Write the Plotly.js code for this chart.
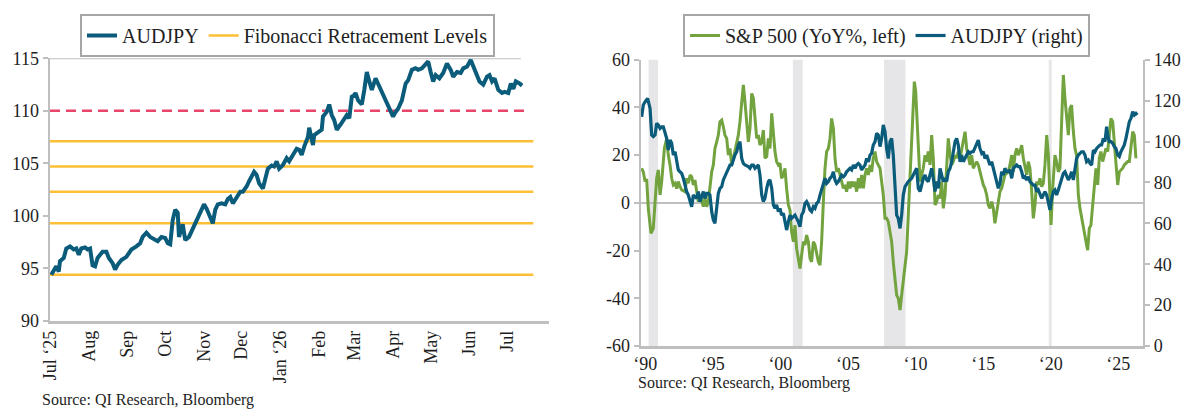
<!DOCTYPE html>
<html>
<head>
<meta charset="utf-8">
<script src="https://cdn.plot.ly/plotly-3.0.1.min.js"></script>
<style>
  html, body { margin: 0; padding: 0; background: #fff; }
  #chart { width: 1200px; height: 416px; }
</style>
</head>
<body>
<div id="chart"></div>
<script>
// ---- left panel: AUDJPY daily-ish, Jul '25 to Jul '26
const audDates = [
  '2025-07-02','2025-07-05','2025-07-06','2025-07-08','2025-07-09','2025-07-12','2025-07-14','2025-07-17',
  '2025-07-20','2025-07-22','2025-07-24','2025-07-26','2025-07-29','2025-07-31','2025-08-02','2025-08-04',
  '2025-08-06','2025-08-08','2025-08-12','2025-08-15','2025-08-17','2025-08-20','2025-08-22','2025-08-24',
  '2025-08-27','2025-08-31','2025-09-04','2025-09-08','2025-09-11','2025-09-13','2025-09-16','2025-09-19',
  '2025-09-23','2025-09-25','2025-09-28','2025-10-01','2025-10-03','2025-10-05','2025-10-07','2025-10-09',
  '2025-10-11','2025-10-12','2025-10-15','2025-10-17','2025-10-20','2025-10-23','2025-10-26','2025-10-28',
  '2025-11-01','2025-11-03','2025-11-05','2025-11-08','2025-11-10','2025-11-12','2025-11-15','2025-11-18',
  '2025-11-20','2025-11-22','2025-11-24','2025-11-27','2025-11-30','2025-12-02','2025-12-05','2025-12-07',
  '2025-12-11','2025-12-13','2025-12-15','2025-12-18','2025-12-22','2025-12-25','2025-12-27','2025-12-29',
  '2025-12-31','2026-01-03','2026-01-06','2026-01-08','2026-01-11','2026-01-14','2026-01-16','2026-01-18',
  '2026-01-20','2026-01-23','2026-01-24','2026-01-26','2026-01-27','2026-01-28','2026-01-31','2026-02-03',
  '2026-02-04','2026-02-07','2026-02-09','2026-02-11','2026-02-13','2026-02-15','2026-02-18','2026-02-20',
  '2026-02-23','2026-02-25','2026-02-27','2026-03-01','2026-03-02','2026-03-04','2026-03-07','2026-03-09',
  '2026-03-11','2026-03-13','2026-03-15','2026-03-18','2026-03-21','2026-03-23','2026-03-26','2026-03-29',
  '2026-04-01','2026-04-03','2026-04-05','2026-04-08','2026-04-11','2026-04-13','2026-04-16','2026-04-19',
  '2026-04-21','2026-04-24','2026-04-27','2026-04-29','2026-05-01','2026-05-03','2026-05-05','2026-05-08',
  '2026-05-11','2026-05-14','2026-05-17','2026-05-19','2026-05-22','2026-05-25','2026-05-27','2026-05-30',
  '2026-06-02','2026-06-04','2026-06-07','2026-06-09','2026-06-12','2026-06-15','2026-06-17','2026-06-19',
  '2026-06-21','2026-06-24','2026-06-27','2026-06-29','2026-07-02','2026-07-04','2026-07-06','2026-07-08',
  '2026-07-11','2026-07-13'
];
const audClose = [
  94.4, 94.9, 95.2, 94.7, 95.7, 96.0, 96.9, 97.1,
  96.8, 96.9, 96.3, 96.9, 97.0, 96.8, 96.9, 95.3,
  95.2, 96.0, 96.6, 96.6, 96.0, 95.5, 94.9, 95.35,
  95.8, 96.1, 96.8, 97.1, 97.4, 98.0, 98.4, 98.0,
  97.7, 97.6, 98.0, 97.9, 97.4, 97.3, 99.6, 100.6,
  100.3, 98.0, 99.2, 97.7, 98.0, 98.8, 99.5, 100.1,
  101.1, 100.7, 100.1, 99.3, 100.6, 101.1, 101.2, 101.1,
  101.6, 101.8, 101.2, 101.7, 102.3, 102.3, 102.8, 103.3,
  104.2, 103.9, 103.1, 102.6, 104.5, 104.8, 104.7, 105.2,
  104.5, 104.85, 105.5, 105.2, 105.8, 106.4, 106.3, 105.8,
  106.6, 107.5, 108.4, 107.2, 106.75, 107.7, 108.0, 108.2,
  109.45, 109.9, 110.6, 109.6, 109.1, 108.2, 108.7, 109.1,
  109.6, 109.3, 111.35, 111.5, 111.7, 111.0, 110.6, 112.0,
  113.7, 112.8, 112.0, 113.1, 112.3, 111.8, 111.2, 110.2,
  109.45, 109.9, 110.2, 111.0, 112.6, 112.9, 113.9, 114.05,
  113.9, 114.05, 114.4, 114.7, 113.7, 112.8, 113.4, 113.1,
  113.6, 114.5, 113.9, 113.25, 113.7, 113.6, 114.05, 114.2,
  114.85, 114.2, 113.4, 112.8, 112.5, 113.25, 113.4, 112.8,
  113.1, 112.0, 111.7, 111.8, 111.7, 112.6, 112.1, 112.8,
  112.6, 112.4
];
const fibLevels = [107.1, 104.7, 102.3, 99.3, 94.4];
const markLevel = 110;
const monthTicks = ['2025-07-01','2025-08-01','2025-09-01','2025-10-01','2025-11-01','2025-12-01',
  '2026-01-01','2026-02-01','2026-03-01','2026-04-01','2026-05-01','2026-06-01','2026-07-01'];
const monthLabels = ['Jul \u201825','Aug','Sep','Oct','Nov','Dec','Jan \u201826','Feb','Mar','Apr','May','Jun','Jul'];

// ---- right panel: S&P 500 YoY% (left axis) and AUDJPY (right axis)
const spxYears = [
  1989.99,1990.11,1990.24,1990.36,1990.48,1990.68,1990.85,1990.98,1991.10,1991.22,1991.35,1991.47,1991.67,1991.84,1991.96,
  1992.09,1992.21,1992.33,1992.46,1992.58,1992.70,1992.83,1992.95,1993.19,1993.32,1993.44,1993.57,1993.69,1993.81,1993.93,
  1994.06,1994.18,1994.30,1994.43,1994.55,1994.67,1994.80,1994.92,1995.04,1995.17,1995.29,1995.41,1995.54,1995.66,1995.78,
  1995.91,1996.03,1996.15,1996.28,1996.40,1996.52,1996.65,1996.77,1996.89,1997.02,1997.14,1997.26,1997.39,1997.51,1997.63,
  1997.76,1997.88,1998.00,1998.13,1998.25,1998.37,1998.50,1998.62,1998.74,1998.87,1998.99,1999.11,1999.24,1999.36,1999.48,
  1999.61,1999.73,1999.85,1999.97,2000.10,2000.22,2000.34,2000.47,2000.59,2000.71,2000.84,2000.96,2001.08,2001.21,2001.33,
  2001.45,2001.58,2001.70,2001.82,2001.95,2002.07,2002.19,2002.32,2002.44,2002.56,2002.69,2002.81,2002.93,2003.06,2003.18,
  2003.30,2003.43,2003.55,2003.67,2003.80,2003.92,2004.04,2004.17,2004.29,2004.41,2004.54,2004.66,2004.78,2004.91,2005.03,
  2005.15,2005.28,2005.40,2005.52,2005.65,2005.77,2005.89,2006.02,2006.14,2006.26,2006.39,2006.51,2006.63,2006.76,2006.88,
  2007.00,2007.12,2007.25,2007.37,2007.49,2007.62,2007.74,2007.86,2007.99,2008.11,2008.23,2008.36,2008.48,2008.60,2008.73,
  2008.85,2008.97,2009.10,2009.22,2009.34,2009.47,2009.59,2009.71,2009.84,2009.96,2010.08,2010.16,2010.26,2010.35,2010.45,
  2010.58,2010.70,2010.82,2010.95,2011.07,2011.19,2011.32,2011.44,2011.56,2011.69,2011.81,2011.93,2012.06,2012.18,2012.30,
  2012.43,2012.55,2012.67,2012.80,2012.92,2013.04,2013.17,2013.29,2013.41,2013.54,2013.66,2013.78,2013.91,2014.03,2014.15,
  2014.28,2014.40,2014.52,2014.64,2014.77,2014.89,2015.01,2015.14,2015.26,2015.38,2015.51,2015.63,2015.75,2015.88,2016.00,
  2016.12,2016.25,2016.37,2016.49,2016.62,2016.74,2016.86,2016.99,2017.11,2017.23,2017.36,2017.48,2017.60,2017.73,2017.85,
  2017.97,2018.10,2018.22,2018.34,2018.47,2018.59,2018.71,2018.84,2018.96,2019.08,2019.21,2019.33,2019.45,2019.58,2019.70,
  2019.82,2019.95,2020.07,2020.19,2020.27,2020.39,2020.56,2020.68,2020.81,2020.93,2021.05,2021.18,2021.30,2021.42,2021.55,
  2021.67,2021.79,2021.92,2022.04,2022.16,2022.29,2022.41,2022.53,2022.66,2022.78,2022.90,2022.98,2023.10,2023.22,2023.35,
  2023.47,2023.59,2023.72,2023.84,2023.96,2024.09,2024.21,2024.33,2024.46,2024.58,2024.70,2024.83,2024.95,2025.07,2025.20,
  2025.32,2025.44,2025.57,2025.69,2025.81,2025.94,2026.06,2026.18,2026.31,2026.43,2026.55
];
const spxYoY = [
  14.5,13,9,10,-2.3,-12.8,-10.7,1.9,10.3,13.8,3.3,8.9,22.8,27,20,
  15.8,10.3,7.5,8.2,6,8.9,6.8,5.4,4.7,10.3,8.2,11.7,11,7.5,9.6,
  4.7,0.5,3.3,0.5,-1.6,1.9,-1.6,0.5,6,13,15.9,22.8,25.6,28.4,34,
  34.7,31.9,28.4,27,20,22.8,15.9,18.7,21.5,25.6,28.4,34,41,49.4,42.4,
  34,25.6,31.2,45.9,43.8,34,27,28.4,24.2,25.6,30.5,18.7,19.4,27,22.8,
  37.5,28.4,21.5,17.3,15.9,16.6,10.3,11.7,14.5,6.1,-0.9,-3,-12.1,-16.3,-9.3,
  -19.1,-24.7,-27.5,-21.9,-16.3,-17.7,-13.5,-16.3,-23.3,-24.7,-16.3,-17.7,-21.9,-24.7,-26.1,
  -16.3,0.5,14.5,21.5,22.8,27,35.4,31.2,18.7,13,14.5,11.7,8.9,6.1,7.5,
  4.7,8.9,6.1,8.9,6.8,8.9,4.7,10.3,6.1,11.7,6.1,11.7,14.5,11.7,15.9,
  13,18.7,21.5,17.3,15.9,14.5,8.9,3.3,-6.5,-6.5,-7.9,-13.5,-16.3,-24.7,-33.1,
  -38.7,-40,-44.9,-38.7,-33.1,-24.7,-20.5,-5.1,13,28.4,42.4,50.8,46.6,36.8,21.5,
  8.9,11.7,14.5,20,17.3,21.5,15.9,28.4,18.7,-0.9,0.5,3.3,1.9,8.9,-2.3,
  3.3,13,27,20,15.9,17.3,20,18.7,21.5,18.7,22.8,25.6,29.8,22.8,20,
  15.9,20,14.5,15.9,17.3,15.9,13,10.3,7.5,6.1,3.3,-0.9,-2.3,0.5,-2.3,
  -8.6,-3.7,0.5,4.7,6.1,8.9,11.7,12.4,13,15.9,20,13,20,22.8,20,
  21.5,24.2,18.7,15.9,11.7,17.3,14.5,4.7,-6.5,-0.9,8.9,7.5,10.3,6.8,8.2,
  15.9,28.4,20,-3.7,-9.3,6.1,20,17.3,13,14.5,37,53.6,43.8,36.8,28.4,
  39.6,41,29.8,22.8,20,3.3,-2.3,-6.5,-10.7,-13.5,-17.7,-19.8,-10.7,-9.3,-0.9,
  8.9,14.5,7.5,18.7,21.5,17.3,20,22.8,21.5,29.8,35.4,34,25.6,15.9,7.5,
  13,13.8,14.5,15.9,16.6,17.3,17.3,24.2,29.8,28.4,18.7
];
const fxYears = [
  1989.99,1990.11,1990.24,1990.43,1990.61,1990.73,1990.85,1990.98,1991.10,1991.22,1991.35,1991.47,1991.59,1991.72,1991.84,
  1991.96,1992.09,1992.21,1992.33,1992.46,1992.58,1992.70,1992.83,1992.95,1993.07,1993.19,1993.32,1993.44,1993.57,1993.69,
  1993.81,1993.93,1994.06,1994.18,1994.30,1994.43,1994.55,1994.67,1994.80,1994.92,1995.04,1995.17,1995.29,1995.41,1995.54,
  1995.66,1995.78,1995.91,1996.03,1996.15,1996.28,1996.40,1996.52,1996.65,1996.77,1996.89,1997.02,1997.14,1997.26,1997.39,
  1997.51,1997.63,1997.88,1998.00,1998.13,1998.25,1998.37,1998.50,1998.62,1998.74,1998.87,1998.99,1999.11,1999.24,1999.36,
  1999.48,1999.61,1999.73,1999.85,1999.97,2000.10,2000.22,2000.34,2000.47,2000.59,2000.71,2000.84,2000.96,2001.08,2001.21,
  2001.33,2001.45,2001.58,2001.70,2001.82,2001.95,2002.07,2002.19,2002.32,2002.44,2002.56,2002.69,2002.81,2002.93,2003.06,
  2003.18,2003.30,2003.43,2003.55,2003.67,2003.80,2003.92,2004.04,2004.17,2004.29,2004.41,2004.54,2004.66,2004.78,2004.91,
  2005.03,2005.15,2005.28,2005.40,2005.52,2005.65,2005.77,2005.89,2006.02,2006.14,2006.26,2006.39,2006.51,2006.63,2006.76,
  2006.88,2007.00,2007.12,2007.25,2007.37,2007.49,2007.62,2007.74,2007.86,2007.99,2008.11,2008.23,2008.36,2008.48,2008.60,
  2008.73,2008.85,2008.97,2009.10,2009.22,2009.34,2009.47,2009.59,2009.71,2009.84,2009.96,2010.08,2010.21,2010.33,2010.45,
  2010.58,2010.70,2010.82,2010.95,2011.07,2011.19,2011.32,2011.44,2011.56,2011.69,2011.81,2011.93,2012.06,2012.18,2012.30,
  2012.43,2012.55,2012.67,2012.80,2012.92,2013.04,2013.17,2013.29,2013.41,2013.54,2013.66,2013.78,2013.91,2014.03,2014.15,
  2014.28,2014.40,2014.52,2014.64,2014.77,2014.89,2015.01,2015.14,2015.26,2015.38,2015.51,2015.63,2015.75,2015.88,2016.00,
  2016.12,2016.25,2016.37,2016.49,2016.62,2016.74,2016.86,2016.99,2017.11,2017.23,2017.36,2017.48,2017.60,2017.73,2017.85,
  2017.97,2018.10,2018.22,2018.34,2018.47,2018.59,2018.71,2018.84,2018.96,2019.08,2019.21,2019.33,2019.45,2019.58,2019.70,
  2019.82,2019.95,2020.07,2020.19,2020.32,2020.44,2020.56,2020.68,2020.81,2020.93,2021.05,2021.18,2021.30,2021.42,2021.55,
  2021.67,2021.79,2021.92,2022.04,2022.16,2022.29,2022.41,2022.53,2022.66,2022.78,2022.90,2023.03,2023.15,2023.27,2023.40,
  2023.52,2023.64,2023.77,2023.89,2024.01,2024.14,2024.26,2024.38,2024.46,2024.58,2024.70,2024.83,2024.95,2025.07,2025.20,
  2025.32,2025.44,2025.57,2025.69,2025.81,2025.94,2026.06,2026.18,2026.31,2026.43,2026.55,2026.65
];
const fxLevel = [
  112.1,117.8,119.4,121.1,116.2,103.2,102.4,103.2,108.9,108.1,106.4,107.2,107.2,104.8,101.5,
  95.8,100.7,99.1,93.4,95,90.1,86.1,85.2,84.4,82,77.9,75.5,73.8,70.6,68.1,
  73.8,73,72.2,75.5,70.6,73,75.5,72.2,74.6,74.6,73.8,65.7,61.6,60,67.3,
  74.6,77.1,77.9,81.2,82.8,85.2,86.1,88.5,88.5,91.7,93.4,95,98.3,99.9,91.7,
  89.3,88.5,87.7,86.9,88.5,88.5,86.9,87.7,88.5,83.6,73.8,70.6,72.2,77.1,80.4,
  81.2,77.1,69,67.3,69,65.7,67.3,64,64.9,60.8,56.7,60.8,64,62.4,63.2,
  64,62.4,60.8,58.3,64,65.7,69.7,70.6,69,66.5,65.7,68.1,67.3,69.7,70.6,
  73.8,76.3,79.5,82,79.5,80.4,82,82.8,85.2,81.2,79.5,80.4,82,83.6,82.8,
  83.6,85.2,86.1,86.9,86.1,88.5,86.9,88.5,89.3,88.5,86.1,87.7,88.5,91.7,90.1,
  93.4,94.2,98.3,99.9,104,103.2,97.5,101.5,108.1,104.8,96.6,91.7,99.9,101.5,93.4,
  77.1,64,62.4,57.5,64,73.8,77.9,79.5,80.4,81.2,82,83.6,85.2,86.9,77.1,
  75.5,78.7,82,83.6,81.2,80.4,83.6,86.9,82,75.5,80.4,77.1,86.9,83.6,80.4,
  82,80.4,85.2,86.9,90.1,95,99.9,101.5,98.3,90.1,93.4,90.1,91.7,93.4,95,
  94.2,95,95,96.6,98.3,100.7,96.6,94.2,95,91.7,93.4,90.9,88.5,90.1,86.9,
  83.6,80.4,77.1,79.5,85.2,83.6,86.9,85.2,85.2,86.1,82,86.9,87.7,88.5,87.7,
  87.7,85.2,82,82.8,81.2,82.8,80.4,79.5,78.7,78.7,75.5,76.3,73.8,72.2,73.8,
  75.5,73.8,70.6,66.5,72.2,75.5,76.3,73.8,76.3,78.7,82,84.4,85.2,83.6,81.2,
  82.8,85.2,81.2,86.1,91.7,93.4,94.2,95,95,93.4,90.1,90.9,89.3,88.5,95.8,
  95,96.6,97.5,98.3,98.3,101.5,99.9,107.2,103.2,99.9,99.9,99.1,97.5,96.6,93.4,
  92.6,95,96.6,98.3,101.5,105.6,109.7,111.3,114.6,113,113.8,113
];
// US recessions (start, end) in decimal years
const recStart = [1990.50, 2001.17, 2007.92, 2020.10];
const recEnd   = [1991.20, 2001.90, 2009.50, 2020.32];
const yearTicks = [1990, 1995, 2000, 2005, 2010, 2015, 2020, 2025];
const spxTicks = [-60, -40, -20, 0, 20, 40, 60];

const FONT = 'Liberation Serif, Times New Roman, serif';
const INK = '#1e1e1e';
const AXIS = '#bfbfbf';
const BLUE = '#0b5b7b';
const GREEN = '#72a33f';
const GOLD = '#fcbf35';
const RED = '#e9456a';

// fib retracement lines, one segment per level, broken by nulls
const fibX = [], fibY = [];
fibLevels.forEach(l => { fibX.push('2025-07-01', '2026-07-22', null); fibY.push(l, l, null); });

const traces = [
  { x: fibX, y: fibY, type: 'scatter', mode: 'lines', name: 'Fibonacci Retracement Levels',
    line: { color: GOLD, width: 2.5 }, legend: 'legend', legendrank: 2, hoverinfo: 'skip' },
  { x: ['2025-07-01', '2026-07-17'], y: [markLevel, markLevel], type: 'scatter', mode: 'lines',
    line: { color: RED, width: 2.5, dash: '10px,6px' }, showlegend: false, hoverinfo: 'skip' },
  { x: audDates, y: audClose, type: 'scatter', mode: 'lines', name: 'AUDJPY',
    line: { color: BLUE, width: 4 }, legend: 'legend', legendrank: 1 },
  { x: spxYears, y: spxYoY, xaxis: 'x2', yaxis: 'y2', type: 'scatter', mode: 'lines',
    name: 'S&P 500 (YoY%, left)', line: { color: GREEN, width: 3 }, legend: 'legend2', legendrank: 1 },
  { x: fxYears, y: fxLevel, xaxis: 'x2', yaxis: 'y3', type: 'scatter', mode: 'lines',
    name: 'AUDJPY (right)', line: { color: BLUE, width: 3.2 }, legend: 'legend2', legendrank: 2 }
];

const shapes = recStart.map((s, i) => ({
  type: 'rect', xref: 'x2', yref: 'y2 domain', x0: s, x1: recEnd[i], y0: 0, y1: 1,
  fillcolor: '#e6e6e8', line: { width: 0 }, layer: 'below'
}));
// light rule along the 115 level
shapes.push({ type: 'line', xref: 'x', yref: 'y', x0: '2025-07-01', x1: '2026-07-12', y0: 115, y1: 115,
  line: { color: AXIS, width: 2 }, layer: 'below' });

const yTick = { ticks: 'outside', ticklen: 5, tickwidth: 2, tickcolor: AXIS,
  showline: true, linecolor: AXIS, linewidth: 2.5, showgrid: false, zeroline: false,
  tickfont: { family: FONT, size: 18, color: INK } };

const legendBox = {
  orientation: 'h', xanchor: 'left', yanchor: 'top', bgcolor: '#fff',
  bordercolor: '#a6a6a6', borderwidth: 2, itemwidth: 30, traceorder: 'normal',
  font: { family: FONT, size: 20, color: INK }
};

const layout = {
  width: 1200, height: 416,
  margin: { l: 0, r: 0, t: 0, b: 0 },
  paper_bgcolor: '#fff', plot_bgcolor: 'rgba(0,0,0,0)',
  showlegend: true,
  font: { family: FONT, color: INK },
  xaxis: {
    domain: [50 / 1200, 549 / 1200], anchor: 'y', type: 'date',
    range: ['2025-07-01', '2026-08-03 12:00'],
    tickvals: monthTicks, ticktext: monthLabels, tickangle: -90, ticks: '',
    showline: true, linecolor: AXIS, linewidth: 2.5, showgrid: false, zeroline: false,
    tickfont: { family: FONT, size: 18, color: INK }
  },
  yaxis: Object.assign({}, yTick, {
    domain: [1 - 321 / 416, 1 - 58.3 / 416], anchor: 'x', range: [90, 115], tickvals: [90, 95, 100, 105, 110, 115]
  }),
  xaxis2: {
    domain: [641 / 1200, 1142.7 / 1200], anchor: 'y2',
    range: [1989.94, 2027.05],
    tickvals: yearTicks.map(y => y + 0.25),
    ticktext: yearTicks.map(y => '\u2018' + String(y).slice(2)),
    ticks: '', showline: true, linecolor: AXIS, linewidth: 2.5, showgrid: false, zeroline: false,
    tickfont: { family: FONT, size: 18, color: INK }
  },
  yaxis2: Object.assign({}, yTick, {
    domain: [1 - 346 / 416, 1 - 59.7 / 416], anchor: 'x2', range: [-60, 60],
    tickvals: spxTicks, ticktext: spxTicks.map(v => String(v)),
    zeroline: true, zerolinecolor: AXIS, zerolinewidth: 2
  }),
  yaxis3: Object.assign({}, yTick, {
    domain: [1 - 346 / 416, 1 - 59.7 / 416], anchor: 'x2', overlaying: 'y2', side: 'right',
    range: [0, 140], dtick: 20
  }),
  legend: Object.assign({}, legendBox, { x: 80 / 1200, y: 1 - 14 / 416 }),
  legend2: Object.assign({}, legendBox, { x: 683 / 1200, y: 1 - 14 / 416 }),
  shapes: shapes,
  annotations: [
    { text: 'Source: QI Research, Bloomberg', xref: 'paper', yref: 'paper', x: 40 / 1200, y: 1 - 400 / 416,
      xanchor: 'left', yanchor: 'middle', showarrow: false, font: { family: FONT, size: 16, color: INK } },
    { text: 'Source: QI Research, Bloomberg', xref: 'paper', yref: 'paper', x: 636 / 1200, y: 1 - 383 / 416,
      xanchor: 'left', yanchor: 'middle', showarrow: false, font: { family: FONT, size: 16, color: INK } }
  ]
};

Plotly.newPlot('chart', traces, layout, { staticPlot: true });
</script>
</body>
</html>
